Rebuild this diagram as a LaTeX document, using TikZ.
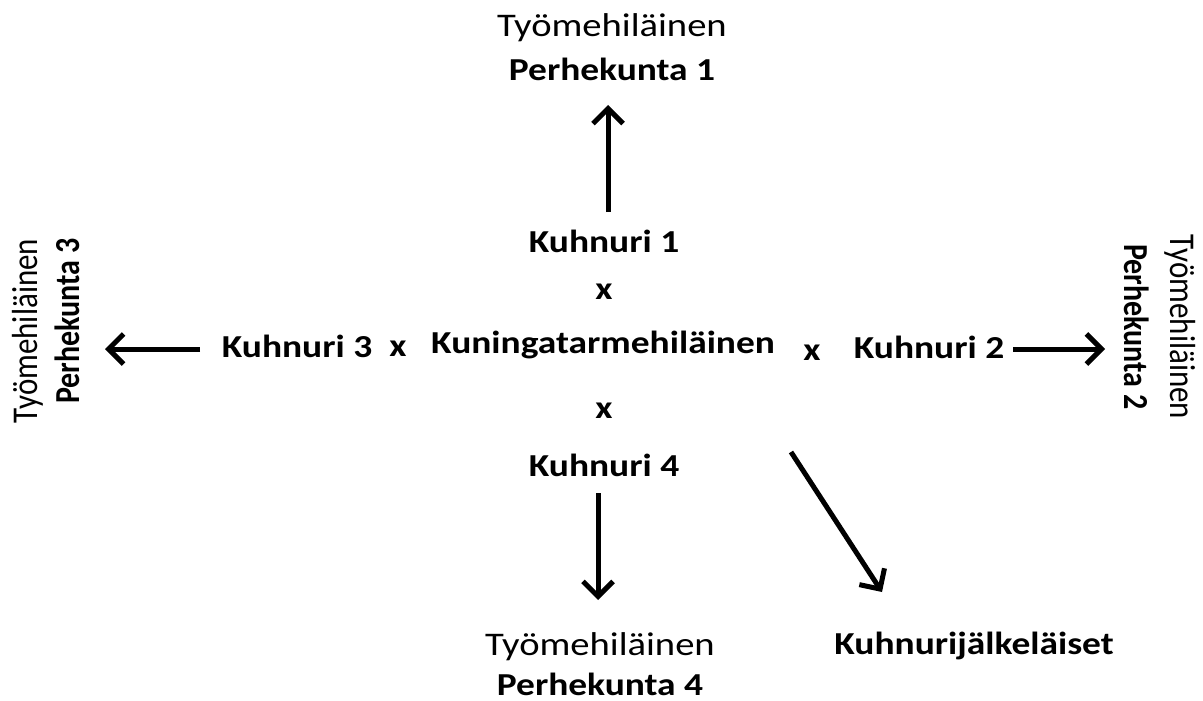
\documentclass[tikz,border=0pt]{standalone}
\usepackage{fontspec}
\setmainfont{Carlito}
\usetikzlibrary{arrows.meta}
\newcommand{\hs}[1]{\scalebox{1.17}[1]{#1}}
\newcommand{\vsu}[1]{\scalebox{1.17}[1]{\rotatebox{90}{#1}}}
\newcommand{\vsd}[1]{\scalebox{1.17}[1]{\rotatebox{-90}{#1}}}
\begin{document}
\begin{tikzpicture}[x=1pt,y=-1pt,
  reg/.style={font=\fontsize{33}{38}\selectfont, inner sep=0pt, anchor=base},
  bld/.style={font=\fontsize{32}{37}\selectfont\bfseries, inner sep=0pt, anchor=base},
  vreg/.style={font=\fontsize{31}{36}\selectfont, inner sep=0pt, anchor=center},
  vbld/.style={font=\fontsize{30}{35}\selectfont\bfseries, inner sep=0pt, anchor=center},
  arr/.style={line width=5pt, -{Straight Barb[length=15pt,width=30pt,line width=5pt]}}]
\useasboundingbox (0,0) rectangle (1203,701);
% top
\node[reg] (t1) at (612,37) {\hs{Työmehiläinen}};
\node[bld] (p1) at (612,81) {\hs{Perhekunta 1}};
\node[bld] (k1) at (604,252) {\hs{Kuhnuri 1}};
\node[bld] (x1) at (604,299) {\hs{x}};
% middle row
\node[bld] (k3) at (297,357) {\hs{Kuhnuri 3}};
\node[bld] (x3) at (398,356) {\hs{x}};
\node[bld] (q) at (603,353) {\hs{Kuningatarmehiläinen}};
\node[bld] (x2) at (812,360) {\hs{x}};
\node[bld] (k2) at (929,358) {\hs{Kuhnuri 2}};
% lower
\node[bld] (x4) at (604,418) {\hs{x}};
\node[bld] (k4) at (604,476) {\hs{Kuhnuri 4}};
\node[reg] (t4) at (600,655) {\hs{Työmehiläinen}};
\node[bld] (p4) at (600,695) {\hs{Perhekunta 4}};
\node[bld] (kj) at (974,654) {\hs{Kuhnurijälkeläiset}};
% rotated sides
\node[vreg] (t3) at (28,331) {\vsu{Työmehiläinen}};
\node[vbld] (p3) at (67,321) {\vsu{Perhekunta 3}};
\node[vreg] (t2) at (1180,327) {\vsd{Työmehiläinen}};
\node[vbld] (p2) at (1137,327) {\vsd{Perhekunta 2}};
% arrows
\coordinate (a1s) at (608,212);
\coordinate (a1e) at (608,105);
\draw[arr] (a1s) -- (a1e);
\coordinate (a3s) at (200,349);
\coordinate (a3e) at (105,349);
\draw[arr] (a3s) -- (a3e);
\coordinate (a2s) at (1013,349);
\coordinate (a2e) at (1105,349);
\draw[arr] (a2s) -- (a2e);
\coordinate (a4s) at (598,493);
\coordinate (a4e) at (598,600);
\draw[arr] (a4s) -- (a4e);
\coordinate (a5s) at (791,452);
\coordinate (a5e) at (882,592);
\draw[arr] (a5s) -- (a5e);
\end{tikzpicture}
\end{document}
